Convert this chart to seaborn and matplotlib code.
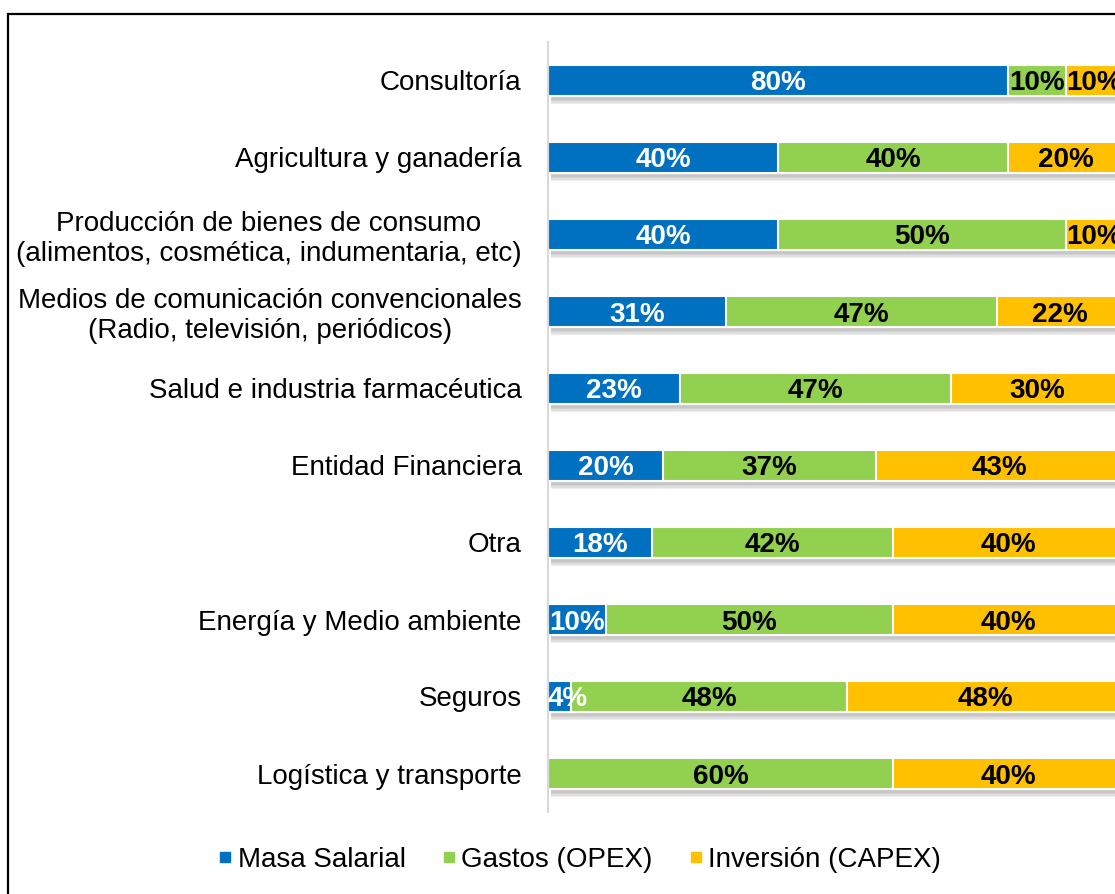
import matplotlib
matplotlib.use("Agg")
import matplotlib.pyplot as plt
import matplotlib.patheffects as pe
from matplotlib.lines import Line2D
from matplotlib.patches import Rectangle
import numpy as np
import pandas as pd
import seaborn as sns

# Datos
categorias = [
    "Consultoría",
    "Agricultura y ganadería",
    "Producción de bienes de consumo\n(alimentos, cosmética, indumentaria, etc)",
    "Medios de comunicación convencionales\n(Radio, televisión, periódicos)",
    "Salud e industria farmacéutica",
    "Entidad Financiera",
    "Otra",
    "Energía y Medio ambiente",
    "Seguros",
    "Logística y transporte",
]
masa_salarial = [80, 40, 40, 31, 23, 20, 18, 10, 4, 0]
gastos_opex = [10, 40, 50, 47, 47, 37, 42, 50, 48, 60]
inversion_capex = [10, 20, 10, 22, 30, 43, 40, 40, 48, 40]

series = ["Masa Salarial", "Gastos (OPEX)", "Inversión (CAPEX)"]
colores = ["#0070C0", "#92D050", "#FFC000"]
color_texto = ["white", "black", "black"]

sns.set_style("white")
plt.rcParams["font.family"] = ["Liberation Sans", "DejaVu Sans"]
plt.rcParams["text.color"] = "black"
plt.rcParams["ytick.color"] = "black"

df = pd.DataFrame({
    "categoria": categorias,
    series[0]: masa_salarial,
    series[1]: gastos_opex,
    series[2]: inversion_capex,
})
valores = df[series].to_numpy(dtype=float)
acum = valores.cumsum(axis=1)

fig = plt.figure(figsize=(11.15, 8.94), dpi=100)
ax = fig.add_axes([548 / 1115, 1 - 812 / 894, 575 / 1115, 770 / 894])

# Barras apiladas: se dibuja del total hacia la primera serie
for i in range(len(series) - 1, -1, -1):
    n_antes = len(ax.patches)
    sns.barplot(x=acum[:, i], y=df["categoria"], orient="h", color=colores[i],
                saturation=1, width=0.4, edgecolor="white", linewidth=1.5, ax=ax)
    if i == len(series) - 1:
        # sombra suave debajo de cada barra
        sombra = [pe.SimplePatchShadow(offset=(2, -d), shadow_rgbFace="#808080", alpha=0.13)
                  for d in (6, 5, 4, 3)]
        for p in ax.patches[n_antes:]:
            p.set_path_effects(sombra + [pe.Normal()])

# Etiquetas de valores
for fila in range(len(categorias)):
    for i in range(len(series)):
        v = valores[fila, i]
        if v <= 0:
            continue
        cx = acum[fila, i] - v / 2
        if i == 0:
            cx = max(cx, 3.5)
        ax.text(cx, fila, f"{v:.0f}%", ha="center", va="center_baseline",
                fontsize=20, fontweight="bold", color=color_texto[i])

ax.set_xlim(0, 100)
ax.set_ylim(len(categorias) - 0.5, -0.5)
ax.set_xlabel("")
ax.set_ylabel("")
ax.set_xticks([])
ax.tick_params(axis="y", length=0, pad=19, labelsize=20, labelcolor="black")
for lbl in ax.get_yticklabels():
    lbl.set_multialignment("center")
for s in ["top", "right", "bottom"]:
    ax.spines[s].set_visible(False)
ax.spines["left"].set_color("#D9D9D9")
ax.spines["left"].set_linewidth(1.5)

# Leyenda
handles = [Line2D([], [], marker="s", linestyle="", color=c, markersize=7) for c in colores]
fig.legend(handles, series, loc="center", bbox_to_anchor=(0.518, 0.038), ncol=3,
           frameon=False, fontsize=20, handletextpad=0.05, columnspacing=1.15, handlelength=0.8)

# Marco
fig.patches.append(Rectangle((8 / 1115, -0.1), 1.2, 1 - 14 / 894 + 0.1, transform=fig.transFigure,
                             fill=False, edgecolor="black", linewidth=1.6))

fig.savefig("out.png", dpi=100)
